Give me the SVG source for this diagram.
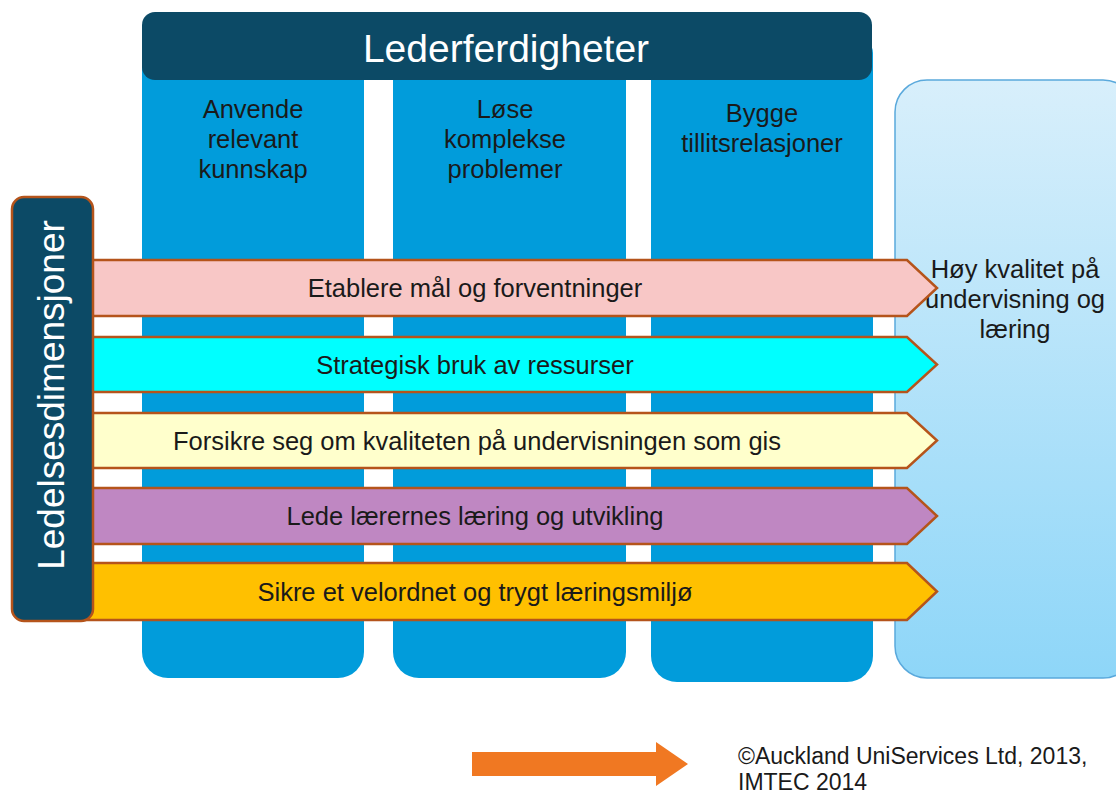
<svg xmlns="http://www.w3.org/2000/svg" width="1116" height="794" viewBox="0 0 1116 794">
<defs>
<linearGradient id="gOut" x1="0" y1="0" x2="0" y2="1">
<stop offset="0" stop-color="#d8effb"/>
<stop offset="1" stop-color="#8ed6f8"/>
</linearGradient>
<style>
.col{fill:#019cdb;}
.t{font-family:"Liberation Sans",Arial,sans-serif;fill:#1a1a1a;text-anchor:middle;}
.c{font-size:25.5px;}
.a{font-size:25.5px;}
.w{font-family:"Liberation Sans",Arial,sans-serif;fill:#ffffff;text-anchor:middle;}
.s{text-anchor:start;font-size:23px;}
.arr{stroke:#b5541b;stroke-width:2.5;stroke-linejoin:miter;}
</style>
</defs>
<rect width="1116" height="794" fill="#ffffff"/>
<g id="columns">
<g id="col1"><path class="col" d="M142,60 H364 V652 a26,26 0 0 1 -26,26 H168 a26,26 0 0 1 -26,-26 Z"/>
<text class="t c" x="253" y="118">Anvende</text><text class="t c" x="253" y="148">relevant</text><text class="t c" x="253" y="178">kunnskap</text></g>
<g id="col2"><path class="col" d="M393,60 H626 V652 a26,26 0 0 1 -26,26 H419 a26,26 0 0 1 -26,-26 Z"/>
<text class="t c" x="505" y="118">Løse</text><text class="t c" x="505" y="148">komplekse</text><text class="t c" x="505" y="178">problemer</text></g>
<g id="col3"><path class="col" d="M651,40 H860 a13,13 0 0 1 13,13 V656 a26,26 0 0 1 -26,26 H677 a26,26 0 0 1 -26,-26 Z"/>
<text class="t c" x="762" y="122">Bygge</text><text class="t c" x="762" y="152">tillitsrelasjoner</text></g>
</g>
<g id="header">
<rect x="142" y="12" width="730" height="68" rx="13" fill="#0c4a66"/>
<text class="w" font-size="39" x="506" y="62">Lederferdigheter</text>
</g>
<g id="outcome">
<rect x="895" y="80" width="240" height="598" rx="32" fill="url(#gOut)" stroke="#5aa9dc" stroke-width="1.5"/>
<text class="t c" x="1015" y="278">Høy kvalitet på</text>
<text class="t c" x="1015" y="308">undervisning og</text>
<text class="t c" x="1015" y="338">læring</text>
</g>
<g id="arrows">
<g id="a1"><path class="arr" fill="#f8c7c6" d="M40,260 H907 L937,288 L907,316 H40 Z"/>
<text class="t a" x="475" y="297">Etablere mål og forventninger</text></g>
<g id="a2"><path class="arr" fill="#00ffff" d="M40,337 H907 L937,364.5 L907,392 H40 Z"/>
<text class="t a" x="475" y="374">Strategisk bruk av ressurser</text></g>
<g id="a3"><path class="arr" fill="#ffffcc" d="M40,413 H907 L937,440.5 L907,468 H40 Z"/>
<text class="t a" x="477" y="450">Forsikre seg om kvaliteten på undervisningen som gis</text></g>
<g id="a4"><path class="arr" fill="#bf87c2" d="M40,488 H907 L937,516 L907,544 H40 Z"/>
<text class="t a" x="475" y="525">Lede lærernes læring og utvikling</text></g>
<g id="a5"><path class="arr" fill="#ffc000" d="M40,563 H907 L937,591.5 L907,620 H40 Z"/>
<text class="t a" x="475" y="601">Sikre et velordnet og trygt læringsmiljø</text></g>
</g>
<g id="dimensions">
<rect x="12" y="197" width="81" height="424" rx="12" fill="#0c4a66" stroke="#b5541b" stroke-width="2.5"/>
<text class="w" font-size="37" transform="translate(64,395) rotate(-90)">Ledelsesdimensjoner</text>
</g>
<g id="legend">
<path fill="#f07822" d="M472,752 H656 V742 L688,764 L656,786 V776 H472 Z"/>
<text class="t s" x="738" y="764">©Auckland UniServices Ltd, 2013,</text>
<text class="t s" x="738" y="790">IMTEC 2014</text>
</g>
</svg>
